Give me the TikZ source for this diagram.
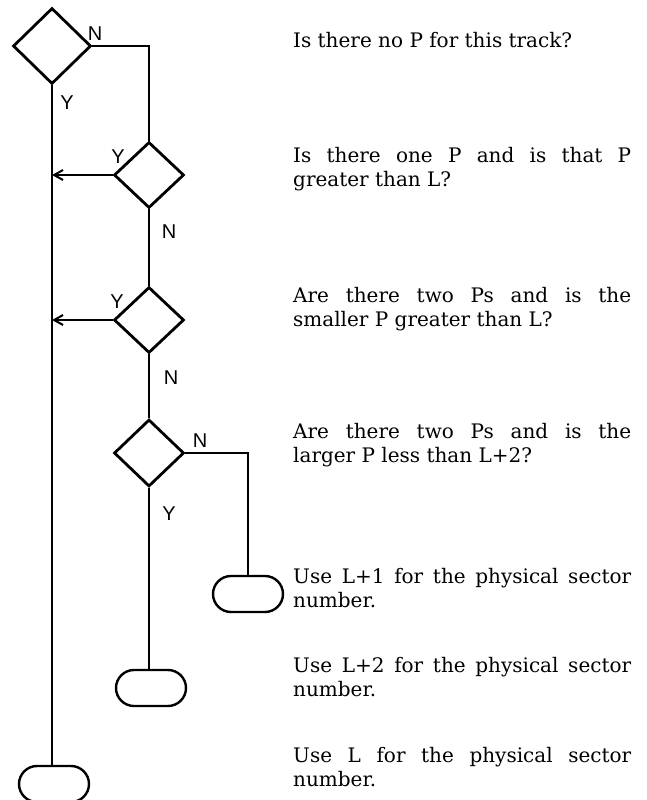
\documentclass[tikz,border=0pt]{standalone}
\usepackage{fontspec}
\setmainfont{DejaVu Serif}
\newfontfamily\labelfont{Liberation Sans}
\usetikzlibrary{shapes.geometric,shapes.misc,arrows.meta}
\tikzset{
  decision/.style={diamond, draw, line width=2.8pt, inner sep=0pt, minimum width=70pt, minimum height=66pt},
  terminal/.style={rounded rectangle, draw, line width=2.4pt, inner sep=0pt, minimum width=70pt, minimum height=36pt},
  conn/.style={line width=2pt},
  yesarrow/.style={conn, -{Straight Barb[length=9pt,width=10pt,line width=2pt]}},
  yn/.style={font=\labelfont\fontsize{20}{20}\selectfont, inner sep=0pt},
  desc/.style={anchor=base west, inner sep=0pt, text width=338pt, align=justify,
    font=\fontsize{20}{24}\selectfont}
}
\begin{document}
\begin{tikzpicture}[x=1pt,y=-1pt]
\useasboundingbox (0,0) rectangle (646,800);
% decisions
\node[decision, minimum width=78pt, minimum height=76pt] (d1) at (52,46) {};
\node[decision] (d2) at (149,175) {};
\node[decision] (d3) at (149,320) {};
\node[decision, minimum height=67pt] (d4) at (149,453) {};
% terminals
\node[terminal] (t1) at (248,594) {};
\node[terminal] (t2) at (151,688) {};
\node[terminal] (t3) at (54,784) {};
% connectors
\coordinate (m2) at (d2.west -| d1.south);
\coordinate (m3) at (d3.west -| d1.south);
\draw[conn] (d1.east) -| (d2.north);
\draw[conn] (d1.south) -- (d1.south |- t3.north);
\draw[yesarrow] (d2.west) -- (m2);
\draw[conn] (d2.south) -- (d3.north);
\draw[yesarrow] (d3.west) -- (m3);
\draw[conn] (d3.south) -- (d4.north);
\draw[conn] (d4.east) -| (t1.north);
\draw[conn] (d4.south) -- (d4.south |- t2.north);
% labels
\node[yn] (n1) at (95,34) {N};
\node[yn] (y1) at (67,103) {Y};
\node[yn] (y2) at (118,157) {Y};
\node[yn] (n2) at (169,232) {N};
\node[yn] (y3) at (117,302) {Y};
\node[yn] (n3) at (171,378) {N};
\node[yn] (n4) at (200,441) {N};
\node[yn] (y4) at (169,514) {Y};
% descriptions
\node[desc] (q1) at (293,48) {Is there no P for this track?};
\node[desc] (q2) at (293,162) {Is there one P and is that P\linebreak greater than L?};
\node[desc] (q3) at (293,302) {Are there two Ps and is the\linebreak smaller P greater than L?};
\node[desc] (q4) at (293,438) {Are there two Ps and is the\linebreak larger P less than L+2?};
\node[desc] (a1) at (293,583) {Use L+1 for the physical sector\linebreak number.};
\node[desc] (a2) at (293,672) {Use L+2 for the physical sector\linebreak number.};
\node[desc] (a3) at (293,762) {Use L for the physical sector\linebreak number.};
\end{tikzpicture}
\end{document}
